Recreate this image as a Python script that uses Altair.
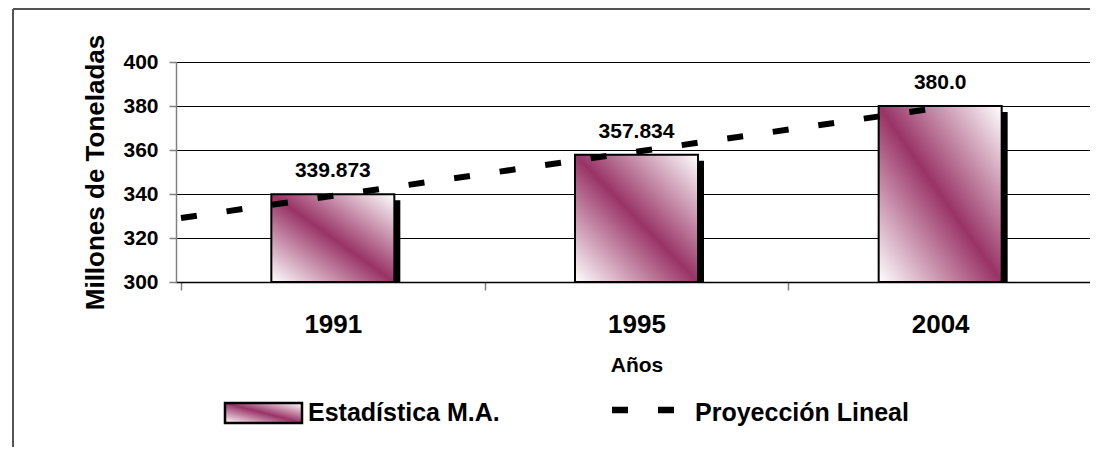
import altair as alt
import pandas as pd

years = ["1991", "1995", "2004"]
values = [339.873, 357.834, 380.0]
value_labels = ["339.873", "357.834", "380.0"]
trend_pos = [0.5, 3.0]
trend_vals = [329.1, 379.3]
legend_names = ["Estadística M.A.", "Proyección Lineal"]
y_ticks = [300, 320, 340, 360, 380, 400]

FONT = "Liberation Sans"
PURPLE = "#993366"

bars_df = pd.DataFrame({
    "pos": list(range(1, len(years) + 1)),
    "year": years,
    "value": values,
    "label": value_labels,
})
trend_df = pd.DataFrame({"pos": trend_pos, "value": trend_vals})

gradient = {
    "gradient": "linear",
    "x1": 0, "y1": 1, "x2": 1, "y2": 0,
    "stops": [
        {"offset": 0, "color": "#ffffff"},
        {"offset": 0.5, "color": PURPLE},
        {"offset": 1, "color": "#ffffff"},
    ],
}

label_expr = " : ".join(
    [f"datum.value === {i + 1} ? '{y}'" for i, y in enumerate(years)]
) + " : ''"

x_scale = alt.Scale(domain=[0.5, len(years) + 0.5], nice=False, zero=False)
y_scale = alt.Scale(domain=[300, 400], nice=False, zero=False)

x_axis = alt.Axis(
    values=[0.5, 1, 1.5, 2, 2.5, 3, 3.5],
    labelExpr=label_expr,
    title="Años",
    titleFont=FONT, titleFontSize=21, titleFontWeight="bold", titleColor="#000",
    titleBaseline="alphabetic", titleY=89,
    labelFont=FONT, labelFontSize=26, labelFontWeight="bold", labelColor="#000",
    labelBaseline="alphabetic", labelPadding=42, labelOverlap=False, labelFlush=False,
    tickSize=8, tickColor="#808080", tickWidth=1.5,
    tickOpacity={"condition": {"test": "datum.value % 1 === 0", "value": 0}, "value": 1},
    domainColor="#000", domainWidth=1.5,
    grid=False,
)

y_axis = alt.Axis(
    values=y_ticks,
    title="Millones de Toneladas",
    titleFont=FONT, titleFontSize=26, titleFontWeight="bold", titleColor="#000",
    titleAngle=-90, titleBaseline="middle", titleAlign="center",
    titleX=-81, titleY=110,
    labelFont=FONT, labelFontSize=21, labelFontWeight="bold", labelColor="#000",
    labelPadding=11, labelBaseline="middle",
    tickSize=7, tickColor="#808080", tickWidth=1.5,
    domainColor="#808080", domainWidth=1.5,
    grid=True, gridColor="#000", gridWidth=1,
)

base = alt.Chart(bars_df)

shadow = base.mark_bar(size=123, color="#000", xOffset=6, yOffset=6, clip=True).encode(
    x=alt.X("pos:Q", scale=x_scale, axis=x_axis),
    y=alt.Y("value:Q", scale=y_scale, axis=y_axis),
    y2=alt.datum(300),
)

bars = base.mark_bar(size=123, fill=gradient, stroke="#000", strokeWidth=2).encode(
    x=alt.X("pos:Q", scale=x_scale),
    y=alt.Y("value:Q", scale=y_scale),
    y2=alt.datum(300),
)

trend = alt.Chart(trend_df).mark_line(
    color="#000", strokeWidth=6, strokeDash=[16, 30], strokeCap="butt"
).encode(
    x=alt.X("pos:Q", scale=x_scale),
    y=alt.Y("value:Q", scale=y_scale),
)

labels = base.mark_text(
    font=FONT, fontSize=21, fontWeight="bold", color="#000",
    baseline="alphabetic", dy=-17,
).encode(
    x=alt.X("pos:Q", scale=x_scale),
    y=alt.Y("value:Q", scale=y_scale),
    text="label:N",
)

leg_df1 = pd.DataFrame({"t": [legend_names[0]]})
leg_df2 = pd.DataFrame({"t": [legend_names[1]]})

leg_swatch = alt.Chart(leg_df1).mark_rect(fill=gradient, stroke="#000", strokeWidth=2.5).encode(
    x=alt.value(49), x2=alt.value(126), y=alt.value(341), y2=alt.value(361)
)
leg_text1 = alt.Chart(leg_df1).mark_text(
    font=FONT, fontSize=25, fontWeight="bold", color="#000", align="left", baseline="middle"
).encode(x=alt.value(132), y=alt.value(351), text="t:N")

leg_dash = alt.Chart(leg_df2).mark_rule(
    color="#000", strokeWidth=6.5, strokeDash=[16, 30], strokeCap="butt"
).encode(x=alt.value(436), x2=alt.value(498), y=alt.value(348))
leg_text2 = alt.Chart(leg_df2).mark_text(
    font=FONT, fontSize=25, fontWeight="bold", color="#000", align="left", baseline="middle"
).encode(x=alt.value(519), y=alt.value(351), text="t:N")

border_left = alt.Chart(leg_df1).mark_rule(color="#555", strokeWidth=2).encode(
    x=alt.value(-163), y=alt.value(-53), y2=alt.value(400)
)
border_top = alt.Chart(leg_df1).mark_rule(color="#555", strokeWidth=2).encode(
    x=alt.value(-163), x2=alt.value(940), y=alt.value(-53)
)

chart = alt.layer(
    shadow, bars, trend, labels,
    leg_swatch, leg_text1, leg_dash, leg_text2,
    border_left, border_top,
).properties(
    width=921, height=220,
    autosize=alt.AutoSizeParams(type="none"),
    padding={"left": 168, "top": 54, "right": -7, "bottom": 165},
    background="#ffffff",
).configure_view(stroke=None)

chart.save("out.html", embed_options={"renderer": "svg", "actions": False})
